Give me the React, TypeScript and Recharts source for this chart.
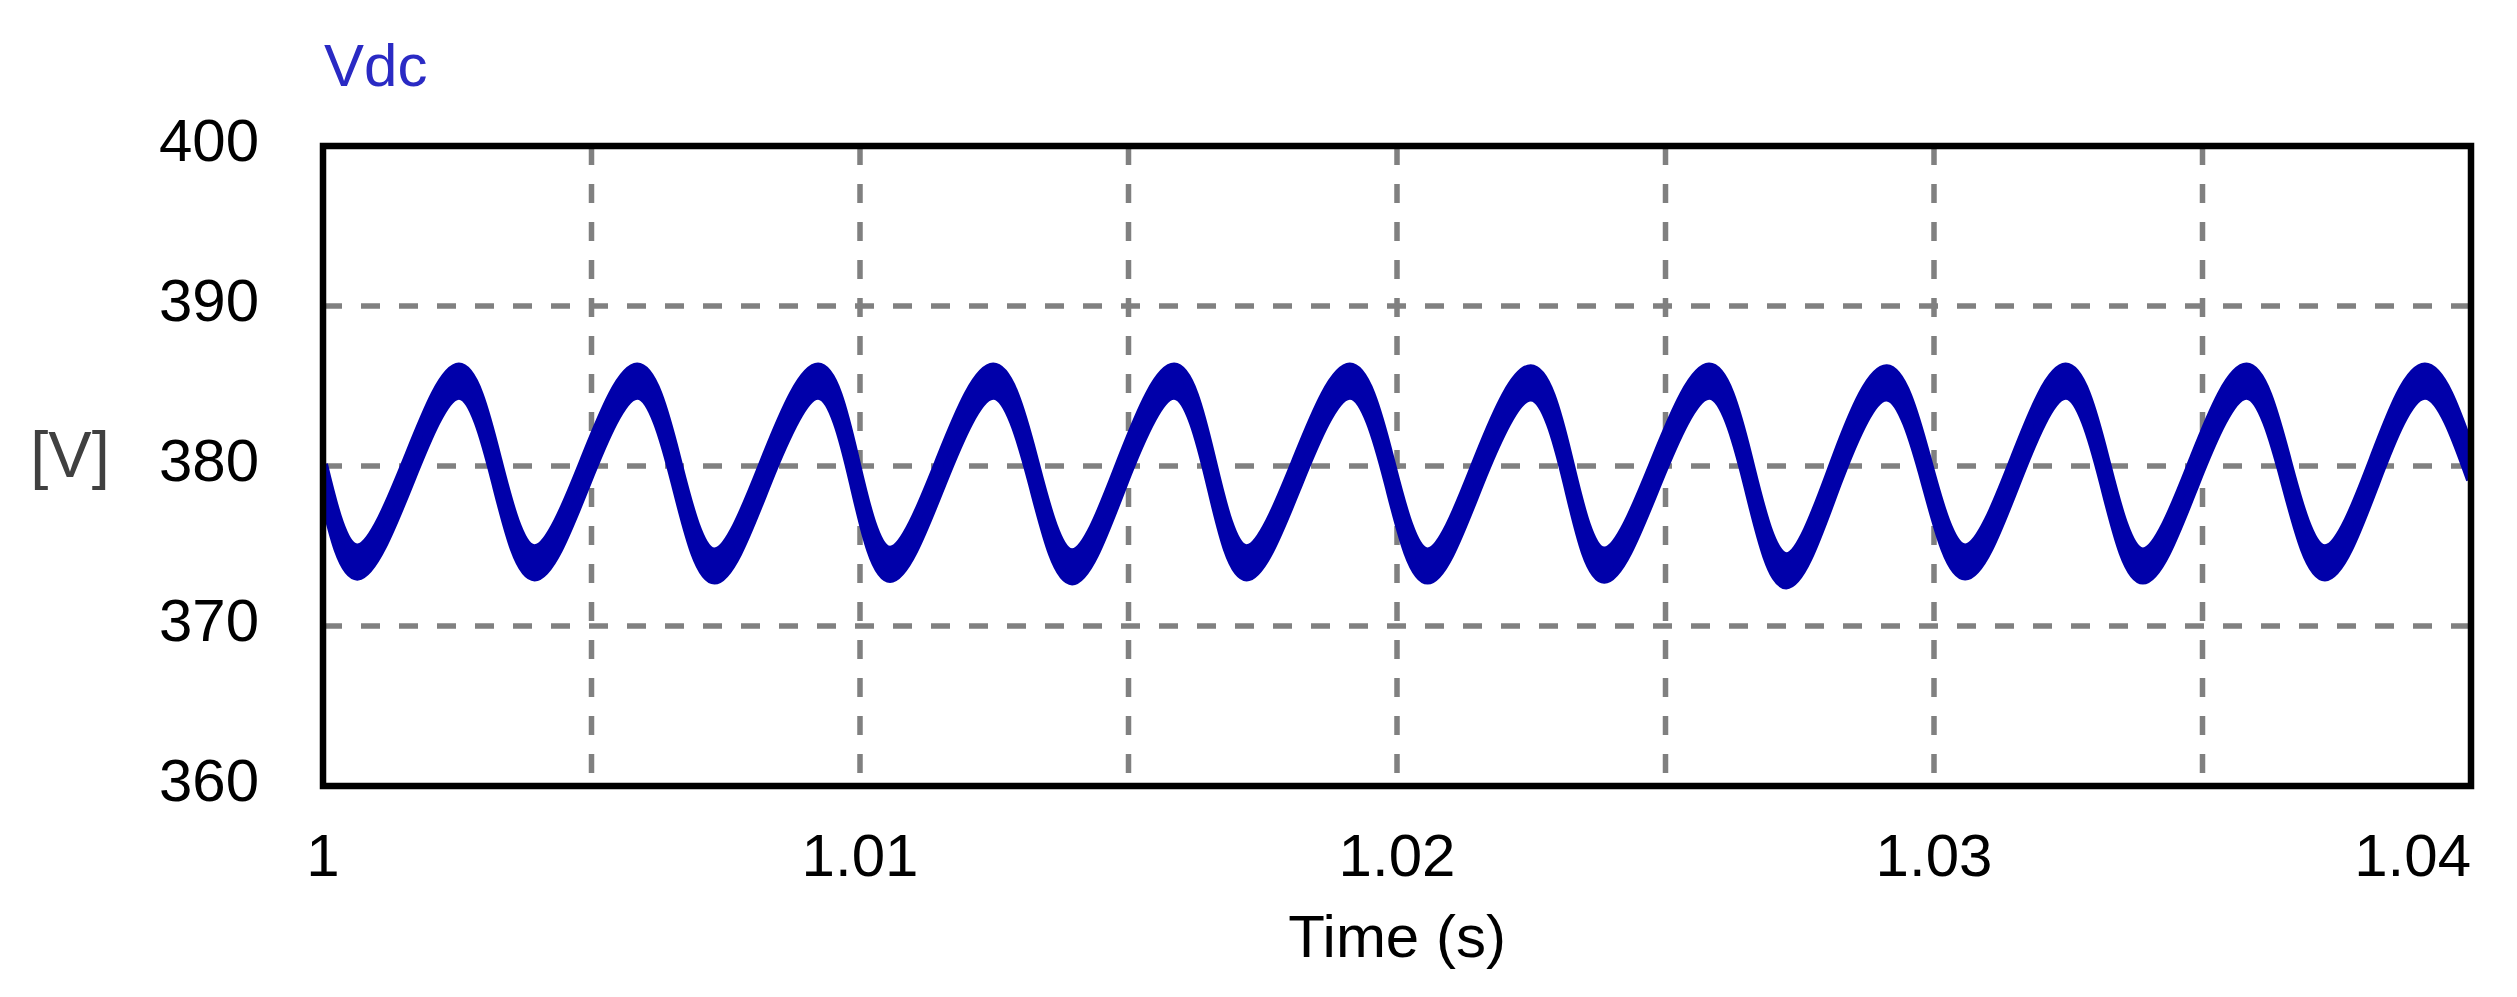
import React from 'react';
import {
  ComposedChart, Area, XAxis, YAxis, CartesianGrid, ReferenceArea,
} from 'recharts';

// Vdc waveform: band of the switching ripple
// (upper / lower edge) at troughs, zero-crossings and peaks.
const TIME = [
  1.0, 1.00065, 1.0016, 1.00253, 1.00323,
  1.00394, 1.0049, 1.00585, 1.00657,
  1.00729, 1.00826, 1.00922, 1.00989,
  1.01056, 1.01152, 1.01248, 1.01322,
  1.01395, 1.0149, 1.01585, 1.01653,
  1.0172, 1.01816, 1.01912, 1.01985,
  1.02057, 1.02153, 1.02249, 1.02318,
  1.02386, 1.02484, 1.02581, 1.02653,
  1.02725, 1.02819, 1.02912, 1.02985,
  1.03058, 1.03152, 1.03245, 1.03317,
  1.03389, 1.03486, 1.03582, 1.03655,
  1.03728, 1.03821, 1.03914, 1.04,
];

const V_HIGH = [
  380.1, 374.85, 380.6, 386.15, 380.6,
  374.8, 380.6, 386.15, 380.6,
  374.6, 380.6, 386.15, 380.6,
  374.7, 380.6, 386.15, 380.6,
  374.55, 380.6, 386.15, 380.6,
  374.8, 380.6, 386.15, 380.6,
  374.6, 380.6, 386.05, 380.6,
  374.65, 380.6, 386.15, 380.6,
  374.3, 380.6, 386.05, 380.6,
  374.85, 380.6, 386.15, 380.6,
  374.6, 380.6, 386.15, 380.6,
  374.8, 380.6, 386.15, 380.85,
];

const V_LOW = [
  378.4, 373.15, 378.9, 384.45, 378.9,
  373.1, 378.9, 384.45, 378.9,
  372.9, 378.9, 384.45, 378.9,
  373.0, 378.9, 384.45, 378.9,
  372.85, 378.9, 384.45, 378.9,
  373.1, 378.9, 384.45, 378.9,
  372.9, 378.9, 384.35, 378.9,
  372.95, 378.9, 384.45, 378.9,
  372.6, 378.9, 384.35, 378.9,
  373.15, 378.9, 384.45, 378.9,
  372.9, 378.9, 384.45, 378.9,
  373.1, 378.9, 384.45, 379.15,
];

const X_TICKS = [1.0, 1.005, 1.01, 1.015, 1.02, 1.025, 1.03, 1.035, 1.04];
const Y_TICKS = [360, 370, 380, 390, 400];

const data = TIME.map((t, i) => ({ t, band: [V_LOW[i], V_HIGH[i]] }));

const FONT = '"Liberation Sans", Arial, sans-serif';
const LINE_COLOR = '#0000aa';

const XTick = ({ x, y, payload }: any) => {
  const v = payload.value;
  // only every second gridline carries a label
  if (Math.abs(v * 100 - Math.round(v * 100)) > 1e-6) return <g />;
  const isLast = Math.abs(v - 1.04) < 1e-9;
  return (
    <text
      x={x}
      y={y + 90}
      textAnchor={isLast ? 'end' : 'middle'}
      fill="#000"
      fontSize={60}
      fontFamily={FONT}
    >
      {String(Number(v.toFixed(2)))}
    </text>
  );
};

const YTick = ({ x, y, payload }: any) => (
  <text x={x - 64} y={y + 15} textAnchor="end" fill="#000" fontSize={60} fontFamily={FONT}>
    {payload.value}
  </text>
);

export default function App() {
  return (
    <div style={{ position: 'absolute', left: 0, top: 0, width: 2517, height: 997, background: '#fff' }}>
      <ComposedChart
        width={2517}
        height={997}
        data={data}
        margin={{ top: 146, right: 46, left: 243, bottom: 151 }}
      >
        <CartesianGrid stroke="#808080" strokeWidth={5.5} strokeDasharray="19 19" />
        <XAxis
          dataKey="t"
          type="number"
          domain={[1, 1.04]}
          ticks={X_TICKS}
          interval={0}
          height={60}
          axisLine={false}
          tickLine={false}
          tickSize={0}
          tickMargin={0}
          tick={<XTick />}
          allowDataOverflow
        />
        <YAxis
          type="number"
          domain={[360, 400]}
          ticks={Y_TICKS}
          interval={0}
          width={80}
          axisLine={false}
          tickLine={false}
          tickSize={0}
          tickMargin={0}
          tick={<YTick />}
          allowDataOverflow
        />
        <Area
          dataKey="band"
          type="natural"
          stroke={LINE_COLOR}
          strokeWidth={10}
          strokeLinejoin="miter"
          fill={LINE_COLOR}
          fillOpacity={1}
          dot={false}
          activeDot={false}
          isAnimationActive={false}
        />
        <ReferenceArea
          x1={1}
          x2={1.04}
          y1={360}
          y2={400}
          fill="none"
          fillOpacity={0}
          stroke="#000"
          strokeWidth={6.5}
          strokeOpacity={1}
        />
      </ComposedChart>
      <svg
        width={2517}
        height={997}
        style={{ position: 'absolute', left: 0, top: 0, pointerEvents: 'none' }}
      >
        <text x={324} y={86} fill="#2a2ac4" fontSize={60} fontFamily={FONT}>Vdc</text>
        <text x={70} y={477} textAnchor="middle" fill="#404040" fontSize={65} fontFamily={FONT}>[V]</text>
        <text x={1397} y={957} textAnchor="middle" fill="#000" fontSize={60} fontFamily={FONT}>Time (s)</text>
      </svg>
    </div>
  );
}
